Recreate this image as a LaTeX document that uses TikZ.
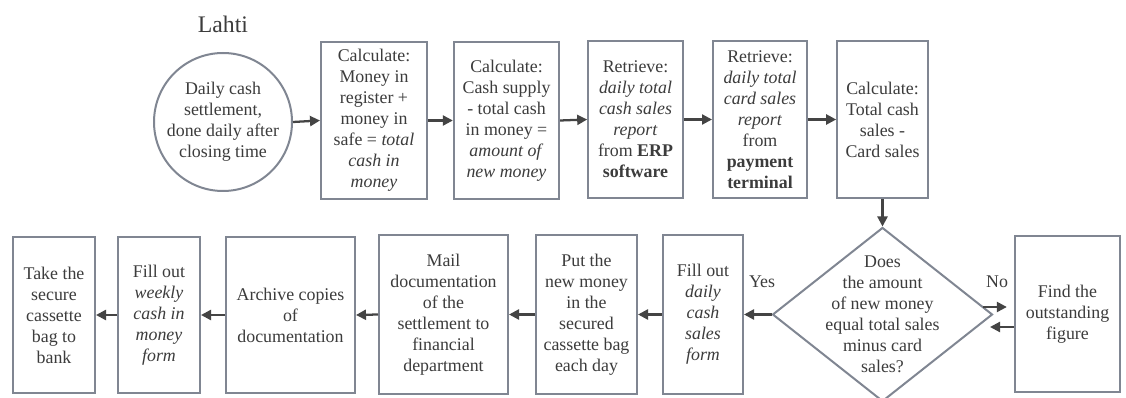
\documentclass[tikz,border=0pt]{standalone}
\usepackage{fontspec}
\setmainfont{Liberation Serif}
\usetikzlibrary{shapes.geometric,arrows.meta,calc}
\definecolor{bordergray}{RGB}{128,134,146}
\definecolor{txtgray}{RGB}{60,60,60}
\definecolor{arrgray}{RGB}{68,68,68}
\tikzset{
  stepbox/.style={draw=bordergray,line width=1.5pt,fill=white,align=center,inner sep=0pt,
    text=txtgray,font=\fontsize{13.4}{15.75}\selectfont,minimum height=#1},
  stepbox/.default=118pt,
  startcirc/.style={draw=bordergray,line width=1.5pt,circle,align=center,inner sep=0pt,
    text=txtgray,font=\fontsize{13.4}{15.75}\selectfont,minimum size=103.5pt},
  decision/.style={draw=bordergray,line width=1.5pt,diamond,inner sep=0pt,
    minimum width=165pt,minimum height=130.5pt},
  plain/.style={align=center,text=txtgray,font=\fontsize{13.4}{15.75}\selectfont,inner sep=0pt},
  arr/.style={draw=arrgray,line width=1.7pt,-{Triangle[length=7.5pt,width=7.5pt]}},
}
\begin{document}
\begin{tikzpicture}[x=0.75pt,y=-0.75pt]
\useasboundingbox[fill=white] (0,0) rectangle (1126,398);
\node[plain,font=\fontsize{17.8}{20}\selectfont] (title) at (223,24) {Lahti};
\node[startcirc] (start) at (223,122) {Daily cash\\settlement,\\done daily after\\closing time};
\node[stepbox,minimum width=79.5pt] (b1) at (374,120.5) {Calculate:\\Money in\\register +\\money in\\safe = \textit{total}\\\textit{cash in}\\\textit{money}};
\node[stepbox,minimum width=79pt] (b2) at (506.5,120.5) {Calculate:\\Cash supply\\- total cash\\in money =\\\textit{amount of}\\\textit{new money}};
\node[stepbox,minimum width=71pt] (b3) at (635.5,119.5) {Retrieve:\\\textit{daily total}\\\textit{cash sales}\\\textit{report}\\from \textbf{ERP}\\\textbf{software}};
\node[stepbox,minimum width=70.5pt] (b4) at (760,119.5) {Retrieve:\\\textit{daily total}\\\textit{card sales}\\\textit{report}\\from\\\textbf{payment}\\\textbf{terminal}};
\node[stepbox,minimum width=68pt] (b5) at (882.5,119.5) {Calculate:\\Total cash\\sales -\\Card sales};
\node[decision] (dia) at (882.5,314.5) {};
\node[plain] (diatext) at (dia.center) {Does\\the amount\\of new money\\equal total sales\\minus card\\sales?};
\node[stepbox=117pt,minimum width=79pt] (find) at (1067.5,314) {Find the\\outstanding\\figure};
\node[stepbox=118.5pt,minimum width=60pt] (fill) at (703,314.5) {Fill out\\\textit{daily}\\\textit{cash}\\\textit{sales}\\\textit{form}};
\node[stepbox=118.5pt,minimum width=75.75pt] (put) at (586.5,314.5) {Put the\\new money\\in the\\secured\\cassette bag\\each day};
\node[stepbox=118.5pt,minimum width=96.75pt] (mail) at (443.5,314.5) {Mail\\documentation\\of the\\settlement to\\financial\\department};
\node[stepbox=117pt,minimum width=96.75pt] (arch) at (290.5,315) {Archive copies\\of\\documentation};
\node[stepbox=117pt,minimum width=61.5pt] (week) at (159,315) {Fill out\\\textit{weekly}\\\textit{cash in}\\\textit{money}\\\textit{form}};
\node[stepbox=117pt,minimum width=61.5pt] (take) at (54,315) {Take the\\secure\\cassette\\bag to\\bank};
\node[plain] (yes) at (762,282) {Yes};
\node[plain] (no) at (997,282) {No};
\draw[arr] (start.east) -- (b1.west);
\draw[arr] (b1.east) -- (b2.west);
\draw[arr] (b2.east) -- (b3.west);
\draw[arr] (b3.east) -- (b4.west);
\draw[arr] (b4.east) -- (b5.west);
\draw[arr] (b5.south) -- (dia.north);
\draw[arr] (dia.west) -- (fill.east);
\draw[arr] (fill.west) -- (put.east);
\draw[arr] (put.west) -- (mail.east);
\draw[arr] (mail.west) -- (arch.east);
\draw[arr] (arch.west) -- (week.east);
\draw[arr] (week.west) -- (take.east);
\coordinate (noStart) at (983,307);
\coordinate (noBack) at (990,327);
\draw[arr,shorten >=5.25pt] (noStart) -- (noStart -| find.west);
\draw[arr] (noBack -| find.west) -- (noBack);
\end{tikzpicture}
\end{document}
